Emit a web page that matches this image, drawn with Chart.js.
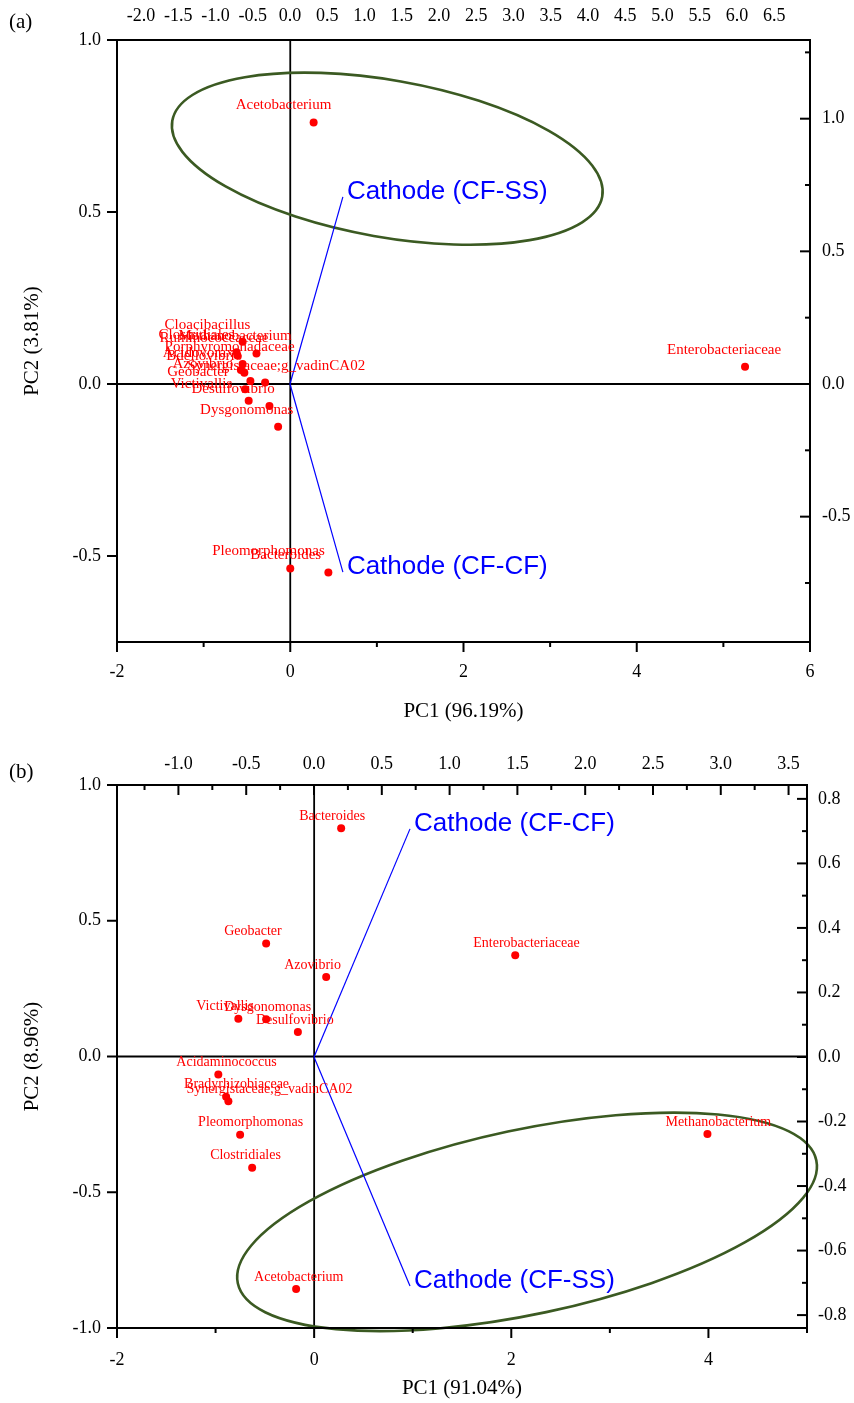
<!DOCTYPE html>
<html>
<head>
<meta charset="utf-8">
<title>PCA biplots</title>
<script src="https://cdn.jsdelivr.net/npm/chart.js@4.4.0/dist/chart.umd.min.js"></script>
<style>
  body { margin: 0; background: #fff; }
  canvas { display: block; }
</style>
</head>
<body>
<canvas id="chartA" width="854" height="730"></canvas>
<canvas id="chartB" width="854" height="673"></canvas>
<script>
const SERIF = '"Liberation Serif", "Times New Roman", serif';
const SANS = '"Liberation Sans", Arial, sans-serif';

// ---------- panel (a) ----------
const taxaA = ['Acetobacterium', 'Enterobacteriaceae', 'Pleomorphomonas', 'Bacteroides',
  'Cloacibacillus', 'Methanobacterium', 'Clostridiales', 'Ruminococcaceae', 'Porphyromonadaceae',
  'Acidovorax', 'Bdellovibrio', 'Azovibrio', 'Synergistaceae;g_vadinCA02', 'Geobacter',
  'Victivallis', 'Desulfovibrio', 'Dysgonomonas'];
const pc1A = [0.27, 5.25, 0.00, 0.44, -0.55, -0.39, -0.62, -0.61, -0.55, -0.57, -0.53, -0.46, -0.29, -0.52, -0.48, -0.24, -0.14];
const pc2A = [0.76, 0.05, -0.536, -0.548, 0.123, 0.089, 0.092, 0.083, 0.058, 0.041, 0.033, 0.009, 0.004, -0.015, -0.049, -0.064, -0.124];
const samplesA = ['Cathode (CF-SS)', 'Cathode (CF-CF)'];
const loadPC1A = [0.71, 0.71];
const loadPC2A = [0.705, -0.709];
const bottomTicksA = [-2, 0, 2, 4, 6];
const leftTicksA = [-0.5, 0.0, 0.5, 1.0];
const topTicksA = [-2.0, -1.5, -1.0, -0.5, 0.0, 0.5, 1.0, 1.5, 2.0, 2.5, 3.0, 3.5, 4.0, 4.5, 5.0, 5.5, 6.0, 6.5];
const rightTicksA = [-0.5, 0.0, 0.5, 1.0];

// ---------- panel (b) ----------
const taxaB = ['Bacteroides', 'Geobacter', 'Enterobacteriaceae', 'Azovibrio', 'Victivallis',
  'Dysgonomonas', 'Desulfovibrio', 'Acidaminococcus', 'Bradyrhizobiaceae',
  'Synergistaceae;g_vadinCA02', 'Pleomorphomonas', 'Clostridiales', 'Methanobacterium', 'Acetobacterium'];
const pc1B = [0.274, -0.487, 2.04, 0.122, -0.769, -0.487, -0.165, -0.972, -0.893, -0.870, -0.751, -0.629, 3.99, -0.183];
const pc2B = [0.841, 0.416, 0.373, 0.293, 0.139, 0.137, 0.090, -0.066, -0.148, -0.165, -0.288, -0.410, -0.285, -0.856];
const samplesB = ['Cathode (CF-CF)', 'Cathode (CF-SS)'];
const loadPC1B = [0.708, 0.708];
const loadPC2B = [0.707, -0.710];
const bottomTicksB = [-2, 0, 2, 4];
const leftTicksB = [-1.0, -0.5, 0.0, 0.5, 1.0];
const topTicksB = [-1.0, -0.5, 0.0, 0.5, 1.0, 1.5, 2.0, 2.5, 3.0, 3.5];
const rightTicksB = [-0.8, -0.6, -0.4, -0.2, 0.0, 0.2, 0.4, 0.6, 0.8];

// confidence ellipses, in bottom/left axis units
const ellipseA = { cx: 1.12, cy: 0.655, rx: 2.52, ry: 0.228, angle: 10 };
const ellipseB = { cx: 2.16, cy: -0.609, rx: 3.0, ry: 0.34, angle: -12 };

// minor ticks halfway between the labelled ones
function minorTicks(major, lo, hi) {
  const step = major[1] - major[0];
  const out = [];
  for (let v = major[0] - step / 2; v <= hi + 1e-9; v += step) {
    if (v >= lo - 1e-9) out.push(v);
  }
  return out;
}

function axis(o) {
  return {
    type: 'linear',
    position: o.position,
    min: o.min,
    max: o.max,
    grid: { display: false, drawTicks: false },
    border: { display: false },
    afterBuildTicks: s => { s.ticks = o.ticks.map(v => ({ value: v })); },
    afterFit: s => {
      if (o.position === 'left' || o.position === 'right') s.width = o.size;
      else s.height = o.size;
    },
    ticks: {
      autoSkip: false, maxRotation: 0, minRotation: 0,
      padding: o.pad, color: '#000',
      font: { family: SERIF, size: 18 },
      callback: v => Number(v).toFixed(o.digits)
    },
    title: o.title
      ? { display: true, text: o.title, color: '#000', font: { family: SERIF, size: 21 }, padding: o.titlePad }
      : { display: false }
  };
}

function drawTicks(ctx, scale, area, values, len, inward) {
  const pos = scale.position;
  values.forEach(v => {
    const p = scale.getPixelForValue(v);
    ctx.beginPath();
    if (pos === 'bottom') {
      ctx.moveTo(p, area.bottom); ctx.lineTo(p, area.bottom + (inward ? -len : len));
    } else if (pos === 'top') {
      ctx.moveTo(p, area.top); ctx.lineTo(p, area.top + (inward ? len : -len));
    } else if (pos === 'left') {
      ctx.moveTo(area.left, p); ctx.lineTo(area.left + (inward ? len : -len), p);
    } else {
      ctx.moveTo(area.right, p); ctx.lineTo(area.right + (inward ? -len : len), p);
    }
    ctx.stroke();
  });
}

const biplotPlugin = {
  id: 'biplot',
  beforeDatasetsDraw(chart, args, o) {
    const { ctx, chartArea: a, scales } = chart;
    ctx.save();
    // zero lines
    ctx.strokeStyle = '#000';
    ctx.lineWidth = 1.8;
    const x0 = scales.x.getPixelForValue(0);
    const y0 = scales.y.getPixelForValue(0);
    ctx.beginPath(); ctx.moveTo(x0, a.top); ctx.lineTo(x0, a.bottom); ctx.stroke();
    ctx.beginPath(); ctx.moveTo(a.left, y0); ctx.lineTo(a.right, y0); ctx.stroke();
    // ellipse
    const e = o.ellipse;
    const cx = scales.x.getPixelForValue(e.cx);
    const cy = scales.y.getPixelForValue(e.cy);
    const rx = Math.abs(scales.x.getPixelForValue(e.cx + e.rx) - cx);
    const ry = Math.abs(scales.y.getPixelForValue(e.cy + e.ry) - cy);
    ctx.strokeStyle = '#3b5a22';
    ctx.lineWidth = 2.6;
    ctx.beginPath();
    ctx.ellipse(cx, cy, rx, ry, e.angle * Math.PI / 180, 0, 2 * Math.PI);
    ctx.stroke();
    ctx.restore();
  },
  afterDatasetsDraw(chart, args, o) {
    const ctx = chart.ctx;
    ctx.save();
    ctx.textAlign = 'left';
    ctx.textBaseline = 'middle';
    // taxon labels
    ctx.font = o.labelSize + 'px ' + SERIF;
    ctx.fillStyle = '#ff0000';
    const pts = chart.data.datasets[0].data;
    chart.getDatasetMeta(0).data.forEach((el, i) => {
      ctx.fillText(pts[i].name, el.x - o.labelDx, el.y - o.labelDy);
    });
    // sample (loading) labels at the vector tips
    ctx.font = '26px ' + SANS;
    ctx.fillStyle = '#0000ff';
    for (let d = 1; d < chart.data.datasets.length; d++) {
      const tip = chart.getDatasetMeta(d).data[1];
      ctx.fillText(chart.data.datasets[d].label, tip.x + 4, tip.y - 5);
    }
    ctx.restore();
  },
  afterDraw(chart, args, o) {
    const { ctx, chartArea: a, scales } = chart;
    ctx.save();
    ctx.strokeStyle = '#000';
    ctx.lineWidth = 2;
    ctx.strokeRect(a.left, a.top, a.right - a.left, a.bottom - a.top);
    o.tickMarks.forEach(t => {
      const s = scales[t.id];
      drawTicks(ctx, s, a, t.major, 10, t.inward);
      if (t.minor) drawTicks(ctx, s, a, minorTicks(t.major, s.min, s.max), 5, t.inward);
    });
    // panel tag
    ctx.fillStyle = '#000';
    ctx.font = '21px ' + SERIF;
    ctx.textAlign = 'left';
    ctx.textBaseline = 'middle';
    ctx.fillText(o.tag, 9, o.tagY);
    ctx.restore();
  }
};

function makeBiplot(id, p) {
  const points = p.pc1.map((x, i) => ({ x: x, y: p.pc2[i], name: p.taxa[i] }));
  const vectors = p.samples.map((s, i) => ({
    label: s,
    data: [{ x: 0, y: 0 }, { x: p.load1[i], y: p.load2[i] }],
    xAxisID: 'x2', yAxisID: 'y2',
    showLine: true,
    borderColor: '#0000ff',
    borderWidth: 1.2,
    pointRadius: 0
  }));
  return new Chart(document.getElementById(id), {
    type: 'scatter',
    data: {
      datasets: [{
        label: 'taxa',
        data: points,
        xAxisID: 'x', yAxisID: 'y',
        pointRadius: 4,
        pointBackgroundColor: '#ff0000',
        pointBorderWidth: 0
      }].concat(vectors)
    },
    options: {
      responsive: false,
      animation: false,
      layout: { padding: 0 },
      plugins: {
        legend: { display: false },
        tooltip: { enabled: false },
        biplot: {
          ellipse: p.ellipse,
          labelSize: p.labelSize,
          labelDx: p.labelDx,
          labelDy: p.labelDy,
          tag: p.tag,
          tagY: p.tagY,
          tickMarks: p.tickMarks
        }
      },
      scales: p.scales
    },
    plugins: [biplotPlugin]
  });
}

makeBiplot('chartA', {
  taxa: taxaA, pc1: pc1A, pc2: pc2A,
  samples: samplesA, load1: loadPC1A, load2: loadPC2A,
  ellipse: ellipseA,
  labelSize: 15, labelDx: 78, labelDy: 17,
  tag: '(a)', tagY: 22,
  tickMarks: [
    { id: 'x', major: bottomTicksA, minor: true, inward: false },
    { id: 'y', major: leftTicksA, minor: false, inward: false },
    { id: 'y2', major: rightTicksA, minor: true, inward: true }
  ],
  scales: {
    x: axis({ position: 'bottom', min: -2, max: 6, ticks: bottomTicksA, digits: 0, size: 88, pad: 19,
      title: 'PC1 (96.19%)', titlePad: { top: 0, bottom: 6 } }),
    y: axis({ position: 'left', min: -0.75, max: 1.0, ticks: leftTicksA, digits: 1, size: 117, pad: 16,
      title: 'PC2 (3.81%)', titlePad: { top: 20, bottom: 0 } }),
    x2: axis({ position: 'top', min: -2.322, max: 6.98, ticks: topTicksA, digits: 1, size: 40, pad: 13 }),
    y2: axis({ position: 'right', min: -0.9725, max: 1.2966, ticks: rightTicksA, digits: 1, size: 44, pad: 12 })
  }
});

makeBiplot('chartB', {
  taxa: taxaB, pc1: pc1B, pc2: pc2B,
  samples: samplesB, load1: loadPC1B, load2: loadPC2B,
  ellipse: ellipseB,
  labelSize: 14, labelDx: 42, labelDy: 12,
  tag: '(b)', tagY: 42,
  tickMarks: [
    { id: 'x', major: bottomTicksB, minor: true, inward: false },
    { id: 'y', major: leftTicksB, minor: false, inward: false },
    { id: 'x2', major: topTicksB, minor: true, inward: true },
    { id: 'y2', major: rightTicksB, minor: true, inward: true }
  ],
  scales: {
    x: axis({ position: 'bottom', min: -2, max: 5, ticks: bottomTicksB, digits: 0, size: 75, pad: 21,
      title: 'PC1 (91.04%)', titlePad: { top: 0, bottom: 2 } }),
    y: axis({ position: 'left', min: -1.0, max: 1.0, ticks: leftTicksB, digits: 1, size: 117, pad: 16,
      title: 'PC2 (8.96%)', titlePad: { top: 20, bottom: 0 } }),
    x2: axis({ position: 'top', min: -1.453, max: 3.636, ticks: topTicksB, digits: 1, size: 55, pad: 10 }),
    y2: axis({ position: 'right', min: -0.840, max: 0.843, ticks: rightTicksB, digits: 1, size: 47, pad: 11 })
  }
});
</script>
</body>
</html>
